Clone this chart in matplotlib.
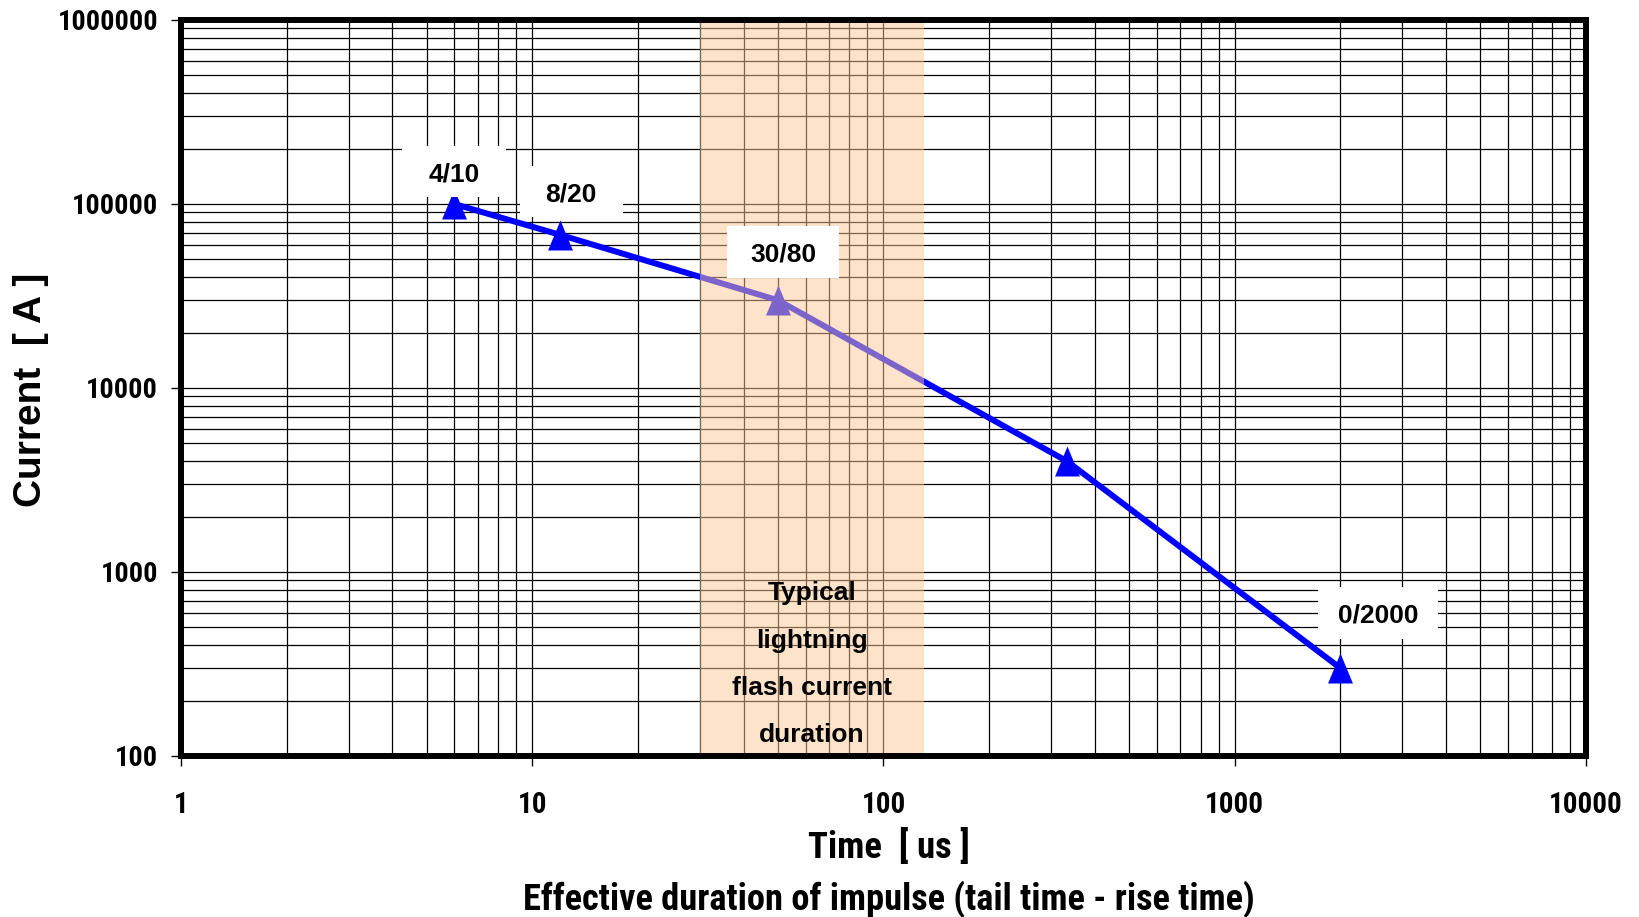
import matplotlib
matplotlib.use('Agg')
import matplotlib.pyplot as plt
import matplotlib.transforms as mtransforms
from matplotlib.patches import Rectangle
from matplotlib.ticker import LogLocator, NullFormatter
import numpy as np

# ---------------- data ----------------
duration_us = [6, 12, 50, 333, 2000]
current_A = [100000, 68000, 30000, 4000, 300]
label_text = ['4/10', '8/20', '30/80', '0/2000']
label_index = [0, 1, 2, 4]
x_ticks = [1, 10, 100, 1000, 10000]
x_tick_labels = ['1', '10', '100', '1000', '10000']
y_ticks = [100, 1000, 10000, 100000, 1000000]
y_tick_labels = ['100', '1000', '10000', '100000', '1000000']
typical_span_us = [30, 130]
typical_text = 'Typical\nlightning\nflash current\nduration'

NARROW = ['Roboto Condensed', 'Fira Sans Condensed', 'Liberation Sans', 'DejaVu Sans']
REG = ['Liberation Sans', 'DejaVu Sans']

W, H = 1640, 917
fig = plt.figure(figsize=(W / 100, H / 100), dpi=100)
ax = fig.add_axes([181 / W, 1 - 756 / H, (1586 - 181) / W, (756 - 20) / H])
ax.set_xscale('log')
ax.set_yscale('log')
ax.set_xlim(x_ticks[0], x_ticks[-1])
ax.set_ylim(y_ticks[0], y_ticks[-1])

ax.xaxis.set_minor_locator(LogLocator(base=10, subs=np.arange(2, 10)))
ax.yaxis.set_minor_locator(LogLocator(base=10, subs=np.arange(2, 10)))
ax.xaxis.set_minor_formatter(NullFormatter())
ax.yaxis.set_minor_formatter(NullFormatter())
ax.set_xticks(x_ticks)
ax.set_xticklabels(x_tick_labels, fontsize=21, fontweight='bold', family=NARROW)
ax.set_yticks(y_ticks)
ax.set_yticklabels(y_tick_labels, fontsize=20.3, fontweight='bold', family=NARROW)
ax.tick_params(which='major', direction='out', length=7, width=1, color='black')
ax.tick_params(axis='x', which='major', pad=18)
ax.tick_params(axis='y', which='major', pad=9.5)
ax.tick_params(which='minor', length=0)

ax.set_axisbelow(True)
ax.grid(True, which='both', color='black', lw=0.9)

# series
tri = [(-0.83, -1), (0.83, -1), (0, 1)]
ax.plot(duration_us, current_A, color='#0000FF', lw=4.3, marker=tri,
        ms=21.6, mew=0, zorder=2)

# shaded typical range (drawn over grid and line, semi transparent)
ax.axvspan(typical_span_us[0], typical_span_us[1], color=(251 / 255, 200 / 255, 151 / 255),
           alpha=0.5, lw=0, zorder=3)
ax.text(np.sqrt(typical_span_us[0] * typical_span_us[1]), 0.019, typical_text,
        transform=ax.get_xaxis_transform(), ha='center', va='baseline',
        multialignment='center', linespacing=2.22, fontsize=19, fontweight='bold',
        family=REG, zorder=4)

# labelled boxes (offsets in points relative to the data point)
offsets = [(0, 23.4), (8, 31), (4, 34.5), (27, 39.6)]
boxes = [(75, 37.4), (74, 36.7), (80.6, 37.4), (87, 37.4)]
for txt, idx, (dx, dy), (bw, bh) in zip(label_text, label_index, offsets, boxes):
    x, y = duration_us[idx], current_A[idx]
    trans = fig.dpi_scale_trans + mtransforms.ScaledTranslation(x, y, ax.transData)
    ax.add_patch(Rectangle(((dx - bw / 2) / 72, (dy - bh / 2) / 72), bw / 72, bh / 72,
                           transform=trans, facecolor='white', edgecolor='none',
                           zorder=5, clip_on=False))
    ax.annotate(txt, xy=(x, y), xytext=(dx, dy), textcoords='offset points',
                ha='center', va='center_baseline', fontsize=19, fontweight='bold',
                family=REG, zorder=6)

for s in ax.spines.values():
    s.set_linewidth(4.3)
    s.set_color('black')
    s.set_zorder(7)

fig.text(889 / W, 1 - 848 / H, 'Time  [ us ]', ha='center', va='center',
         fontsize=26.5, fontweight='bold', family=NARROW)
fig.text(889 / W, 1 - 899 / H, 'Effective duration of impulse (tail time - rise time)',
         ha='center', va='center', fontsize=26.2, fontweight='bold', family=NARROW)
fig.text(31 / W, 1 - 390 / H, 'Current  [ A ]', rotation=90, ha='center', va='center',
         fontsize=28, fontweight='bold', family=REG)

fig.savefig('out.png', dpi=100, facecolor='white')
